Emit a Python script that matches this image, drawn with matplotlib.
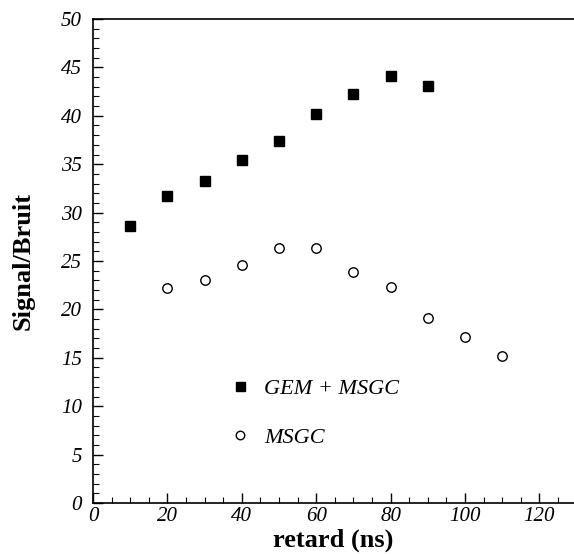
import matplotlib
matplotlib.use("Agg")
import matplotlib.pyplot as plt
from matplotlib.ticker import MultipleLocator

# data
retard_gem = [10, 20, 30, 40, 50, 60, 70, 80, 90]
sb_gem = [28.6, 31.7, 33.3, 35.4, 37.4, 40.2, 42.3, 44.1, 43.1]

retard_msgc = [20, 30, 40, 50, 60, 70, 80, 90, 100, 110]
sb_msgc = [22.2, 23.0, 24.6, 26.3, 26.3, 23.9, 22.3, 19.1, 17.2, 15.2]

labels = ["GEM + MSGC", "MSGC"]

plt.rcParams['font.family'] = ['Liberation Serif', 'DejaVu Serif']

fig = plt.figure(figsize=(5.74, 5.54), dpi=100)
ax = fig.add_axes([93 / 574, 51 / 554, 1 - 93 / 574, 484 / 554])

ax.plot(retard_gem, sb_gem, ls='none', marker='s', ms=7.2, color='black',
        label=labels[0])
ax.plot(retard_msgc, sb_msgc, ls='none', marker='o', ms=6.8, mfc='white',
        mec='black', mew=1.0, label=labels[1])

ax.set_xlim(0, 129.3)
ax.set_ylim(0, 50)

ax.spines['right'].set_visible(False)
for s in ['left', 'bottom', 'top']:
    ax.spines[s].set_linewidth(1.2)

ax.xaxis.set_major_locator(MultipleLocator(20))
ax.xaxis.set_minor_locator(MultipleLocator(5))
ax.yaxis.set_major_locator(MultipleLocator(5))
ax.yaxis.set_minor_locator(MultipleLocator(1))
ax.tick_params(which='both', direction='in', top=False, right=False)
ax.tick_params(which='major', length=7, width=1)
ax.tick_params(which='minor', length=4, width=0.8)
ax.tick_params(axis='y', which='major', pad=8)
ax.tick_params(axis='x', which='major', pad=3)
for lab in ax.get_xticklabels() + ax.get_yticklabels():
    lab.set_fontstyle('italic')
    lab.set_fontsize(15)

ax.set_xlabel('retard (ns)', fontsize=19, fontweight='bold', labelpad=2)
ax.set_ylabel('Signal/Bruit', fontsize=19, fontweight='bold')
ax.yaxis.set_label_coords(-0.122, 0.5)

leg = ax.legend(loc='upper left', bbox_to_anchor=(211 / 574, 1 - 358 / 554),
                bbox_transform=fig.transFigure, frameon=False, numpoints=1,
                handlelength=0.8, handletextpad=0.7, labelspacing=1.3,
                prop={'style': 'italic', 'size': 16}, markerscale=0.9)

fig.savefig('out.png', dpi=100)
